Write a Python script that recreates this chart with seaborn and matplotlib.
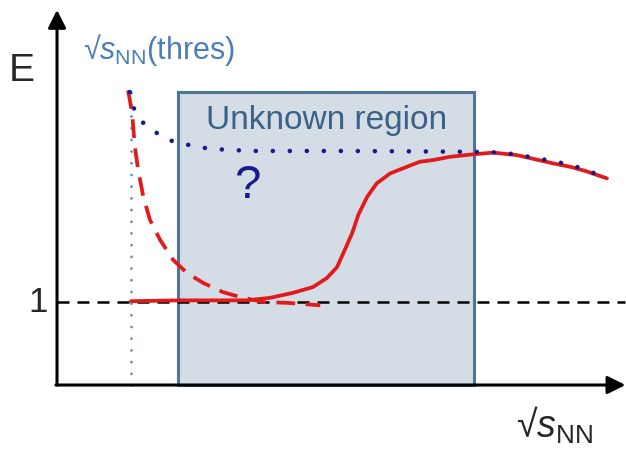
import numpy as np
import pandas as pd
import matplotlib.pyplot as plt
from matplotlib.patches import Rectangle
import seaborn as sns

# schematic values (x = sqrt(s_NN) arb. units, y = E)
solid_x = [1.32, 2.20, 3.39, 3.80, 4.21, 4.57, 4.82, 5.00, 5.14, 5.27, 5.38,
           5.54, 5.71, 5.95, 6.25, 6.48, 6.71, 7.02, 7.43, 7.79, 8.21, 8.54,
           8.86, 9.16, 9.43, 9.82]
solid_e = [1.01, 1.02, 1.02, 1.05, 1.11, 1.18, 1.29, 1.42, 1.63, 1.83, 2.05,
           2.27, 2.43, 2.55, 2.63, 2.69, 2.71, 2.75, 2.78, 2.80, 2.77, 2.72,
           2.67, 2.63, 2.58, 2.49]

dashed_x = [1.27, 1.34, 1.39, 1.45, 1.54, 1.66, 1.84, 2.07, 2.32, 2.61, 2.96,
            3.27, 3.68, 4.11, 4.70]
dashed_e = [3.55, 3.28, 2.87, 2.59, 2.27, 1.99, 1.75, 1.51, 1.35, 1.23, 1.12,
            1.06, 1.00, 0.99, 0.96]

dotted_x = [1.30, 1.36, 1.52, 1.75, 2.00, 2.30, 2.59, 2.88, 3.18, 3.45, 5.23,
            7.45, 7.96, 8.27, 8.57, 8.86, 9.16, 9.43, 9.70]
dotted_e = [3.53, 3.35, 3.17, 3.05, 2.95, 2.90, 2.86, 2.84, 2.83, 2.82, 2.82,
            2.81, 2.80, 2.77, 2.73, 2.70, 2.65, 2.60, 2.52]

threshold = 1.32
unity = 1.0
region = (2.16, 7.45)
region_top = 3.53
x_end = 10.15
e_end = 4.52

RED = "#e31a1c"
NAVY = "#1a1a8f"


def main():
    sns.set_theme(style="white")
    plt.rcParams["font.family"] = ["Liberation Sans", "DejaVu Sans"]
    plt.rcParams["mathtext.fontset"] = "custom"
    plt.rcParams["mathtext.rm"] = "Liberation Sans"
    plt.rcParams["mathtext.it"] = "Liberation Sans:italic"

    fig = plt.figure(figsize=(6.26, 4.51), dpi=100)
    ax = fig.add_axes([0, 0, 1, 1])
    ax.set_xlim(-1.018, 10.16)
    ax.set_ylim(-0.795, 4.639)
    ax.axis("off")

    # unknown region box
    ax.add_patch(Rectangle((region[0], 0), region[1] - region[0], region_top,
                           facecolor="#d4dce6", edgecolor="#4d7698", lw=2.2, zorder=1))
    ax.text(sum(region) / 2, 3.19, "Unknown region", color="#3a6187",
            fontsize=24, ha="center", va="center", zorder=5)

    # E = 1 reference and threshold
    ax.plot([0, x_end], [unity, unity], color="black", lw=1.8,
            ls=(0, (4.8, 3.2)), zorder=2)
    thr, = ax.plot([threshold, threshold], [0, 3.65], color="#5b8cc0", lw=2.0,
                   zorder=2)
    thr.set_dashes((0.01, 4.2))
    thr.set_dash_capstyle("round")

    sns.lineplot(x=dashed_x, y=dashed_e, ax=ax, sort=False, color=RED, lw=2.7,
                 zorder=3).lines[-1].set_dashes((5, 2.8))
    sns.lineplot(x=solid_x, y=solid_e, ax=ax, sort=False, color=RED, lw=2.7, zorder=3)
    dots = sns.lineplot(x=dotted_x, y=dotted_e, ax=ax, sort=False, color=NAVY,
                        lw=3.3, zorder=4).lines[-1]
    dots.set_dashes((0.01, 3.7))
    dots.set_dash_capstyle("round")

    # axes arrows
    arrow = dict(arrowstyle="-|>,head_length=0.9,head_width=0.45", color="black",
                 lw=2.2, shrinkA=0, shrinkB=0)
    ax.annotate("", xy=(0, e_end), xytext=(0, 0), arrowprops=arrow, zorder=6)
    ax.annotate("", xy=(x_end, 0), xytext=(-0.02, 0), arrowprops=arrow, zorder=6)

    ax.text(-0.625, 3.78, "E", fontsize=28, ha="center", va="center")
    ax.text(-0.34, unity, "1", fontsize=25, ha="center", va="center")
    ax.text(0.46, 4.04, "√$s_\\mathrm{NN}$(thres)", color="#4a7ebb",
            fontsize=22, ha="left", va="center")
    ax.text(3.39, 2.40, "?", color=NAVY, fontsize=34, ha="center", va="center")
    ax.text(8.89, -0.49, "√$s_\\mathrm{NN}$", fontsize=27, ha="center", va="center")

    fig.savefig("out.png", dpi=100)
    plt.close(fig)


if __name__ == "__main__":
    main()
